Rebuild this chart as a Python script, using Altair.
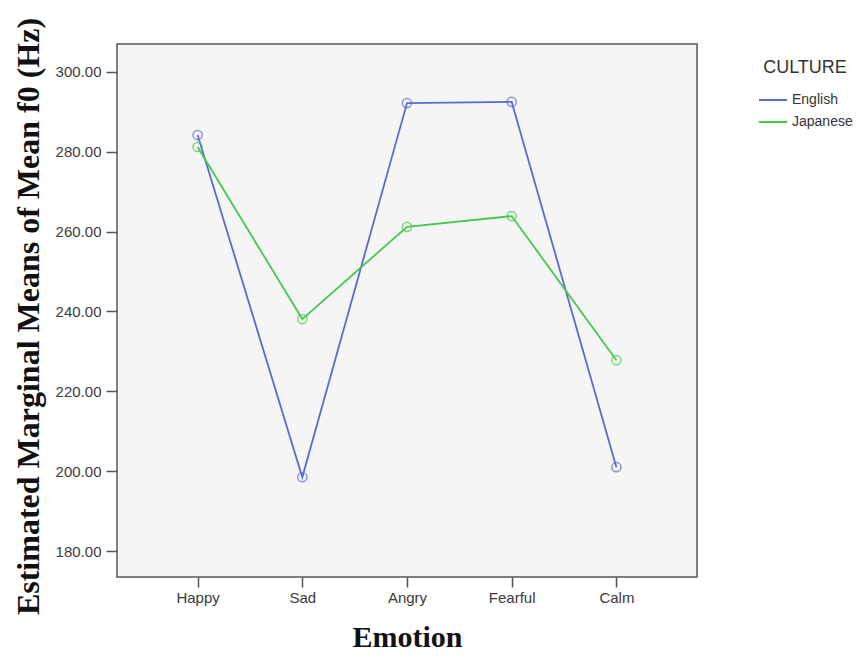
import altair as alt
import pandas as pd

emotions = ["Happy", "Sad", "Angry", "Fearful", "Calm"]
cultures = ["English", "Japanese"]
english = [284.2, 198.5, 292.2, 292.5, 201.0]
japanese = [281.2, 238.1, 261.2, 263.9, 227.8]

rows = []
for e, v in zip(emotions, english):
    rows.append({"Emotion": e, "CULTURE": "English", "Mean": v})
for e, v in zip(emotions, japanese):
    rows.append({"Emotion": e, "CULTURE": "Japanese", "Mean": v})
df = pd.DataFrame(rows)

color_scale = alt.Scale(domain=cultures, range=["#5a6ccf", "#45c850"])

x_enc = alt.X(
    "Emotion:N",
    sort=emotions,
    scale=alt.Scale(type="point", padding=0.77),
    axis=alt.Axis(
        title="Emotion",
        titleFont="Liberation Serif",
        titleFontSize=30,
        titleFontWeight="bold",
        titleColor="#111111",
        titlePadding=17,
        labelAngle=0,
        labelFont="Liberation Sans",
        labelFontSize=15,
        labelColor="#3a3a3a",
        labelPadding=3,
        tickSize=10,
        tickColor="#555555",
        tickWidth=1.5,
        domain=False,
        grid=False,
    ),
)
y_enc = alt.Y(
    "Mean:Q",
    scale=alt.Scale(domain=[173.5, 307.0], nice=False, zero=False),
    axis=alt.Axis(
        title="Estimated Marginal Means of Mean f0 (Hz)",
        titleFont="Liberation Serif",
        titleFontSize=32,
        titleFontWeight="bold",
        titleColor="#111111",
        titleX=-79,
        titleY=272,
        titleBaseline="alphabetic",
        values=[180, 200, 220, 240, 260, 280, 300],
        format=".2f",
        labelFont="Liberation Sans",
        labelFontSize=15,
        labelColor="#3a3a3a",
        labelPadding=5,
        tickSize=11,
        tickColor="#555555",
        tickWidth=1.5,
        domain=False,
        grid=False,
    ),
)

lines = alt.Chart(df).mark_line(strokeWidth=1.8).encode(
    x=x_enc,
    y=y_enc,
    color=alt.Color(
        "CULTURE:N",
        scale=color_scale,
        legend=alt.Legend(
            title="CULTURE",
            orient="none",
            legendX=641,
            legendY=15,
            symbolType="stroke",
            symbolSize=784,
            symbolStrokeWidth=2,
            titleFont="Liberation Sans",
            titleFontSize=18,
            titleFontWeight="normal",
            titleColor="#333333",
            titleAnchor="middle",
            titlePadding=8,
            labelFont="Liberation Sans",
            labelFontSize=14,
            labelColor="#333333",
            labelOffset=4,
            rowPadding=-10,
        ),
    ),
)

points = alt.Chart(df).mark_point(shape="circle", filled=False, size=85, strokeWidth=1.5).encode(
    x=x_enc,
    y=y_enc,
    color=alt.Color("CULTURE:N", scale=color_scale, legend=None),
)

chart = (
    alt.layer(lines, points)
    .properties(
        width=580,
        height=533,
        autosize=alt.AutoSizeParams(type="none"),
        padding={"left": 109, "top": 36, "right": 159, "bottom": 75},
        background="white",
    )
    .configure_view(fill="#f5f5f5", stroke="#555555", strokeWidth=1.5)
)

chart.save("out.html", embed_options={"renderer": "svg", "actions": False})
